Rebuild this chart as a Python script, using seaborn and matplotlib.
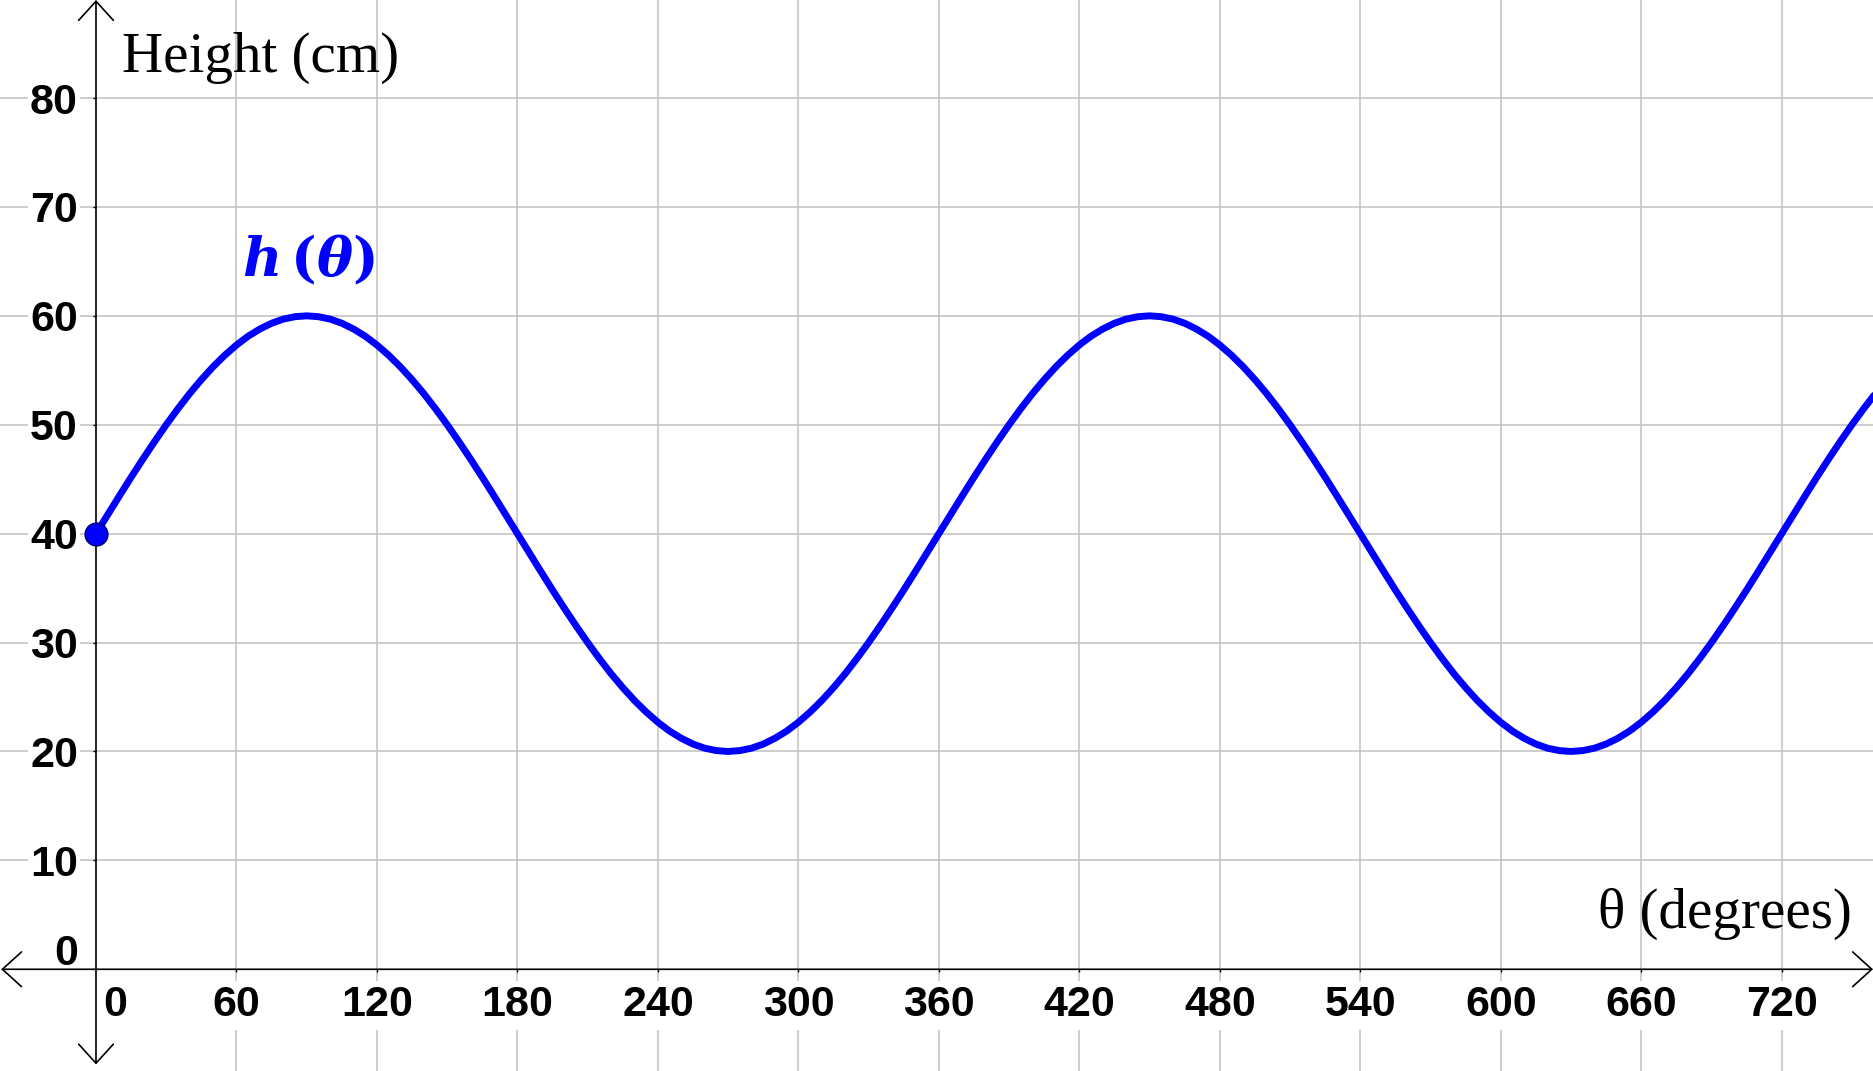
import matplotlib
matplotlib.use("Agg")
import matplotlib.pyplot as plt
import seaborn as sns
import pandas as pd

# h(theta) every 5 degrees, 0 to 760
theta = list(range(0, 765, 5))
height = [40.00,
          41.74, 43.47, 45.18, 46.84, 48.45, 50.00, 51.47, 52.86, 54.14, 55.32, 56.38, 57.32,
          58.13, 58.79, 59.32, 59.70, 59.92, 60.00, 59.92, 59.70, 59.32, 58.79, 58.13, 57.32,
          56.38, 55.32, 54.14, 52.86, 51.47, 50.00, 48.45, 46.84, 45.18, 43.47, 41.74, 40.00,
          38.26, 36.53, 34.82, 33.16, 31.55, 30.00, 28.53, 27.14, 25.86, 24.68, 23.62, 22.68,
          21.87, 21.21, 20.68, 20.30, 20.08, 20.00, 20.08, 20.30, 20.68, 21.21, 21.87, 22.68,
          23.62, 24.68, 25.86, 27.14, 28.53, 30.00, 31.55, 33.16, 34.82, 36.53, 38.26, 40.00,
          41.74, 43.47, 45.18, 46.84, 48.45, 50.00, 51.47, 52.86, 54.14, 55.32, 56.38, 57.32,
          58.13, 58.79, 59.32, 59.70, 59.92, 60.00, 59.92, 59.70, 59.32, 58.79, 58.13, 57.32,
          56.38, 55.32, 54.14, 52.86, 51.47, 50.00, 48.45, 46.84, 45.18, 43.47, 41.74, 40.00,
          38.26, 36.53, 34.82, 33.16, 31.55, 30.00, 28.53, 27.14, 25.86, 24.68, 23.62, 22.68,
          21.87, 21.21, 20.68, 20.30, 20.08, 20.00, 20.08, 20.30, 20.68, 21.21, 21.87, 22.68,
          23.62, 24.68, 25.86, 27.14, 28.53, 30.00, 31.55, 33.16, 34.82, 36.53, 38.26, 40.00,
          41.74, 43.47, 45.18, 46.84, 48.45, 50.00, 51.47, 52.86]

x_ticks = [60, 120, 180, 240, 300, 360, 420, 480, 540, 600, 660, 720]
y_ticks = [10, 20, 30, 40, 50, 60, 70, 80]

x_label = "θ (degrees)"
y_label = "Height (cm)"
curve_label = r"$h\,(\theta)$"

df = pd.DataFrame({"theta": theta, "height": height})

sns.set_theme(style="white")
plt.rcParams["font.family"] = ["Liberation Sans", "DejaVu Sans"]
plt.rcParams["mathtext.fontset"] = "custom"
plt.rcParams["mathtext.it"] = "DejaVu Serif:italic:bold"
plt.rcParams["mathtext.rm"] = "DejaVu Serif:bold"

fig = plt.figure(figsize=(18.73, 10.71), dpi=100)
ax = fig.add_axes([0, 0, 1, 1])

xmin, xmax = -41, 759
ymin, ymax = -9.34, 89.0
ax.set_xlim(xmin, xmax)
ax.set_ylim(ymin, ymax)

sns.lineplot(data=df, x="theta", y="height", color="#0000ff", linewidth=5.0,
             ax=ax, zorder=3, solid_joinstyle="round")
sns.scatterplot(x=[theta[0]], y=[height[0]], s=270, color="#0000ff",
                edgecolor="#000066", linewidth=1.0, ax=ax, zorder=5)
ax.set_xlabel("")
ax.set_ylabel("")

# axes cross at the origin
for side in ["top", "right", "bottom", "left"]:
    ax.spines[side].set_visible(False)
ax.spines["bottom"].set_position(("data", 0))
ax.spines["left"].set_position(("data", 0))

label_box = dict(facecolor="white", edgecolor="none", pad=3)
ax.set_xticks(x_ticks)
ax.set_xticklabels([str(v) for v in x_ticks], fontweight="bold",
                   fontsize=31, color="black", bbox=label_box)
ax.set_yticks(y_ticks)
ax.set_yticklabels([str(v) for v in y_ticks], fontweight="bold",
                   fontsize=31, color="black", bbox=dict(label_box, pad=1.5))
ax.tick_params(axis="x", length=2.5, width=1, color="black", pad=9,
               direction="out", bottom=True)
ax.tick_params(axis="y", length=2.5, width=1, color="black", pad=10.5,
               direction="out", left=True)
ax.grid(True, color="#c0c0c0", linewidth=1.1)
ax.set_axisbelow(True)

# the two zero labels sit beside the origin
ax.annotate("0", xy=(0, 0), xytext=(-13, 3), textcoords="offset points",
            ha="right", va="baseline", fontsize=31, fontweight="bold",
            color="black")
ax.annotate("0", xy=(0, 0), xytext=(5, -11.5), textcoords="offset points",
            ha="left", va="top", fontsize=31, fontweight="bold",
            color="black", bbox=label_box)

# axis lines with open arrowheads at both ends
arrow = dict(arrowstyle="<->,head_length=0.55,head_width=0.5", lw=1.2,
             color="black", shrinkA=0, shrinkB=0, mutation_scale=25)
ax.annotate("", xy=(xmax, 0), xytext=(xmin + 0.5, 0), arrowprops=arrow,
            annotation_clip=False)
ax.annotate("", xy=(0, ymax), xytext=(0, ymin + 0.6), arrowprops=arrow,
            annotation_clip=False)

ax.text(0.0651, 0.9328, y_label, transform=ax.transAxes, ha="left",
        va="baseline", fontsize=41, family="Liberation Serif", color="black")
ax.text(0.9888, 0.1335, x_label, transform=ax.transAxes, ha="right",
        va="baseline", fontsize=41, family="Liberation Serif", color="black")
ax.text(0.1292, 0.7432, curve_label, transform=ax.transAxes, ha="left",
        va="baseline", fontsize=39, color="#0000ff")

fig.savefig("out.png", dpi=100)
